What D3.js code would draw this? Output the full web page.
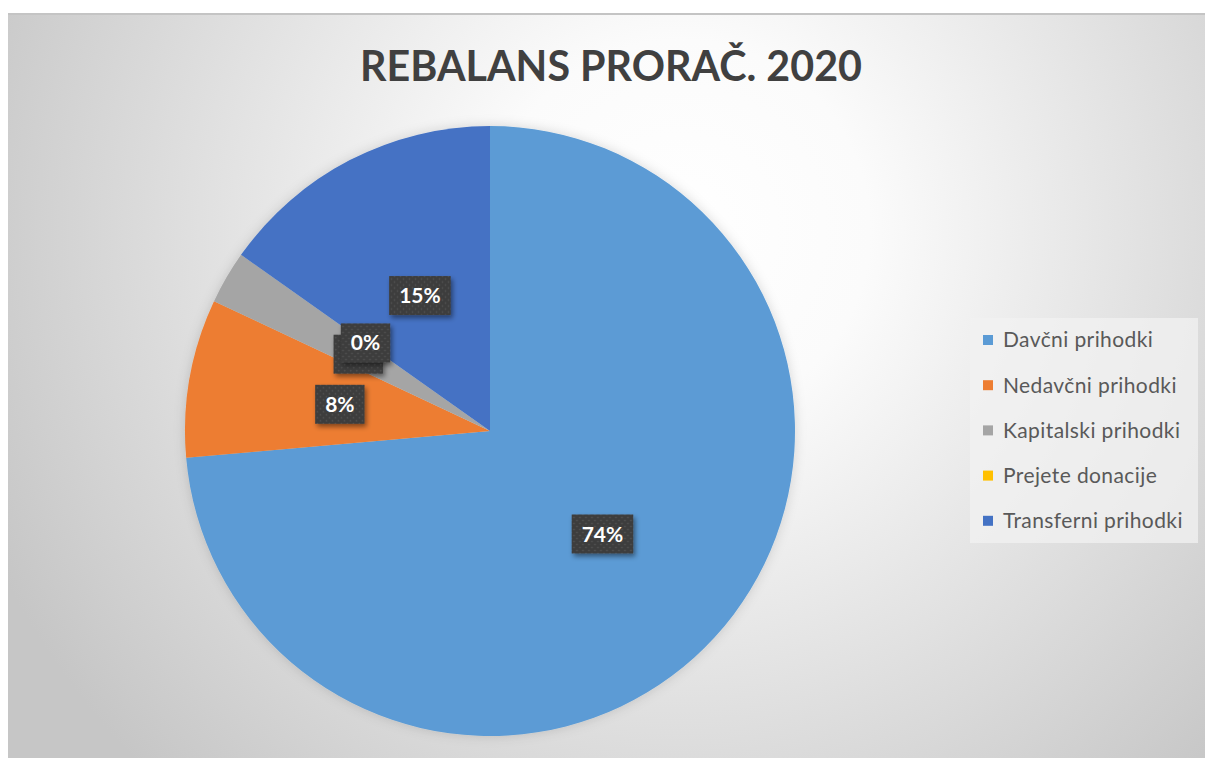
<!DOCTYPE html>
<html>
<head>
<meta charset="utf-8">
<script src="https://d3js.org/d3.v7.min.js"></script>
<style>
  body { margin: 0; background: #fff; }
  svg { display: block; }
</style>
</head>
<body>
<div id="chart"></div>
<script>
// data
var categories = ["Davčni prihodki", "Nedavčni prihodki", "Kapitalski prihodki", "Prejete donacije", "Transferni prihodki"];
var shares = [73.6, 8.4, 2.8, 0, 15.2];
var labels = ["74%", "8%", "3%", "0%", "15%"];
var colors = ["#5B9BD5", "#ED7D31", "#A5A5A5", "#FFC000", "#4472C4"];
var title = "REBALANS PRORAČ. 2020";

var W = 1205, H = 758;
var cx = 490, cy = 431, r = 305;

var svg = d3.select("#chart").append("svg")
    .attr("width", W).attr("height", H);

var defs = svg.append("defs");

// chart background gradient
var bg = defs.append("radialGradient").attr("id", "bg")
    .attr("gradientUnits", "userSpaceOnUse")
    .attr("cx", 680).attr("cy", 230).attr("r", 760);
bg.append("stop").attr("offset", "0%").attr("stop-color", "#ffffff");
bg.append("stop").attr("offset", "25%").attr("stop-color", "#fbfbfb");
bg.append("stop").attr("offset", "100%").attr("stop-color", "#c6c6c6");

// dotted pattern for the label boxes
var pat = defs.append("pattern").attr("id", "dots")
    .attr("patternUnits", "userSpaceOnUse")
    .attr("width", 6).attr("height", 6);
pat.append("rect").attr("width", 6).attr("height", 6).attr("fill", "#3d3d3d");
pat.append("circle").attr("cx", 1.5).attr("cy", 1.5).attr("r", 0.8).attr("fill", "#575757");
pat.append("circle").attr("cx", 4.5).attr("cy", 4.5).attr("r", 0.8).attr("fill", "#575757");

var shadow = defs.append("filter").attr("id", "shadow")
    .attr("x", "-30%").attr("y", "-30%").attr("width", "160%").attr("height", "170%");
shadow.append("feDropShadow").attr("dx", 2).attr("dy", 3)
    .attr("stdDeviation", 2.5).attr("flood-color", "#000").attr("flood-opacity", 0.45);

var pieShadow = defs.append("filter").attr("id", "pieShadow")
    .attr("x", "-10%").attr("y", "-10%").attr("width", "120%").attr("height", "120%");
pieShadow.append("feDropShadow").attr("dx", 0).attr("dy", 0)
    .attr("stdDeviation", 6).attr("flood-color", "#000").attr("flood-opacity", 0.15);

// chart area
svg.append("rect").attr("x", 8).attr("y", 13).attr("width", W - 8).attr("height", H - 13)
    .attr("fill", "url(#bg)");
svg.append("line").attr("x1", 8).attr("x2", W).attr("y1", 14).attr("y2", 14)
    .attr("stroke", "#c4c4c4").attr("stroke-width", 2);

// title
svg.append("text")
    .attr("x", 611).attr("y", 81)
    .attr("text-anchor", "middle")
    .attr("font-family", "Lato, 'Open Sans', sans-serif")
    .attr("font-weight", "bold")
    .attr("font-size", 42)
    .attr("fill", "#404040")
    .attr("textLength", 502)
    .attr("lengthAdjust", "spacingAndGlyphs")
    .text(title);

// pie
var data = categories.map(function(c, i) {
    return {name: c, value: shares[i], label: labels[i], color: colors[i]};
});

var pie = d3.pie().sort(null).value(function(d) { return d.value; });
var arc = d3.arc().innerRadius(0).outerRadius(r);
var arcs = pie(data);

var g = svg.append("g").attr("transform", "translate(" + cx + "," + cy + ")");

g.append("g").attr("filter", "url(#pieShadow)")
  .selectAll("path")
    .data(arcs)
    .enter()
    .append("path")
    .attr("d", arc)
    .attr("fill", function(d) { return d.data.color; });

// data labels at the slice centroids (the 3% box sits under the 0% box, as in the original)
var lab = g.selectAll(".lab")
    .data(arcs)
    .enter()
    .append("g")
    .attr("class", "lab")
    .attr("transform", function(d) {
        var c = arc.centroid(d);
        return "translate(" + c[0] + "," + c[1] + ")";
    });

lab.each(function(d) {
    var el = d3.select(this);
    var box = el.append("rect").attr("fill", "url(#dots)").attr("filter", "url(#shadow)");
    var t = el.append("text")
        .attr("text-anchor", "middle")
        .attr("dy", "0.36em")
        .attr("font-family", "Lato, 'Open Sans', sans-serif")
        .attr("font-weight", "bold")
        .attr("font-size", 21)
        .attr("fill", "#ffffff")
        .text(d.data.label);
    var w = t.node().getComputedTextLength() + 20;
    box.attr("x", -w / 2).attr("y", -19.5).attr("width", w).attr("height", 39);
});

// legend
var lx = 970, ly = 318;
svg.append("rect").attr("x", lx).attr("y", ly).attr("width", 228).attr("height", 225)
    .attr("fill", "#f2f2f2").attr("fill-opacity", 0.75);

var item = svg.selectAll(".leg")
    .data(data)
    .enter()
    .append("g")
    .attr("class", "leg")
    .attr("transform", function(d, i) { return "translate(" + (lx + 13) + "," + (ly + 22 + i * 45.2) + ")"; });

item.append("rect")
    .attr("x", 0).attr("y", -5).attr("width", 10).attr("height", 10)
    .attr("fill", function(d) { return d.color; });

item.append("text")
    .attr("x", 20).attr("dy", "0.35em")
    .attr("font-family", "Lato, 'Open Sans', sans-serif")
    .attr("font-size", 21)
    .attr("letter-spacing", 0.4)
    .attr("fill", "#595959")
    .text(function(d) { return d.name; });
</script>
</body>
</html>
